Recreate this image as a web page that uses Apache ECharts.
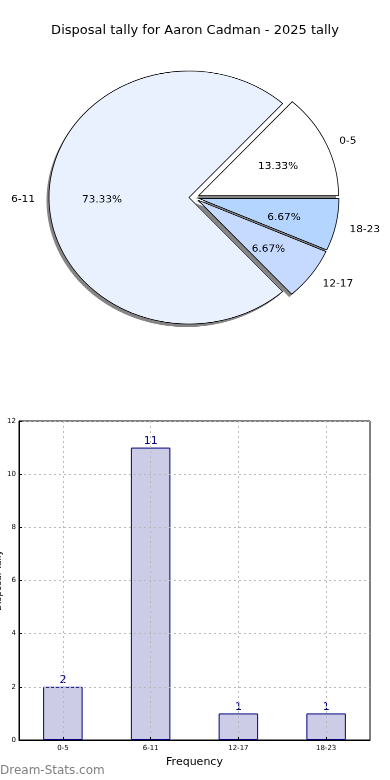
<!DOCTYPE html>
<html>
<head>
<meta charset="utf-8">
<script src="https://cdn.jsdelivr.net/npm/echarts@6/dist/echarts.min.js"></script>
<style>
  html, body { margin:0; padding:0; background:#fff; }
  #main { position:absolute; left:0; top:0; width:390px; height:780px; }
  #pie { position:absolute; left:0; top:0; width:390px; height:400px; transform: scaleY(0.9036); transform-origin: 0 197.5px; }
</style>
</head>
<body>
<div id="main"></div>
<div id="pie"></div>
<script>
const titleText = 'Disposal tally for Aaron Cadman - 2025 tally';
const categories = ['0-5', '6-11', '12-17', '18-23'];
const counts = [2, 11, 1, 1];
const pieColors = ['#ffffff', '#eaf1fe', '#c6d9ff', '#b3d5ff'];
const yTickValues = { min: 0, max: 12, step: 2 };
const xAxisName = 'Frequency';
const yAxisName = 'Disposal Tally';
const watermark = 'Dream-Stats.com';

const FONT = 'DejaVu Sans';

const main = echarts.init(document.getElementById('main'), null, { renderer: 'canvas' });
main.setOption({
  animation: false,
  title: {
    text: titleText, left: 'center', top: 19,
    textStyle: { fontFamily: FONT, fontSize: 13, fontWeight: 'normal', color: '#000' }
  },
  grid: { left: 19, right: 20, top: 421, bottom: 40, containLabel: false, outerBoundsMode: 'none',
          show: true, borderColor: '#000', borderWidth: 1, backgroundColor: 'transparent' },
  xAxis: {
    type: 'category', data: categories, z: 3,
    axisLine: { show: true, lineStyle: { color: '#000', width: 1 } },
    axisTick: { show: true, inside: true, alignWithLabel: true, length: 3, lineStyle: { color: '#000' } },
    axisLabel: { fontFamily: FONT, fontSize: 7, color: '#000', margin: 5 },
    splitLine: { show: true, alignWithLabel: true, lineStyle: { color: '#b8b8b8', type: [2, 3], width: 1 } },
    name: xAxisName, nameLocation: 'middle', nameGap: 17, nameMoveOverlap: false,
    nameTextStyle: { fontFamily: FONT, fontSize: 11, color: '#000' }
  },
  yAxis: {
    type: 'value', min: yTickValues.min, max: yTickValues.max, interval: yTickValues.step, z: 3,
    axisLine: { show: true, lineStyle: { color: '#000', width: 1 } },
    axisTick: { show: true, inside: true, length: 3, lineStyle: { color: '#000' } },
    axisLabel: { fontFamily: FONT, fontSize: 7, color: '#000', margin: 3 },
    splitLine: { show: true, lineStyle: { color: '#b8b8b8', type: [2, 3], width: 1 } },
    name: yAxisName, nameLocation: 'middle', nameGap: 16, nameRotate: 90, nameMoveOverlap: false,
    nameTextStyle: { fontFamily: FONT, fontSize: 9, color: '#000' }
  },
  series: [{
    type: 'bar', data: counts, barWidth: '45%', z: 2,
    itemStyle: { color: '#ccccE6', borderColor: '#000080', borderWidth: 1 },
    label: { show: true, position: 'top', distance: 1, color: '#000080', fontFamily: FONT, fontSize: 11 },
    emphasis: { disabled: true }
  }],
  graphic: [{
    type: 'text', left: 0, top: 765,
    style: { text: watermark, fill: '#808080', font: '12px "DejaVu Sans"' }
  }]
});

const pie = echarts.init(document.getElementById('pie'), null, { renderer: 'canvas', devicePixelRatio: 2 });
const R = 140;
const CX = 194, CY = 197.5;
const SHADOW_DX = -2.5, SHADOW_DY = 3.3;
const pieData = categories.map((c, i) => ({
  name: c, value: counts[i], selected: true,
  itemStyle: { color: pieColors[i] }
}));
const shadowData = categories.map((c, i) => ({ name: c, value: counts[i], selected: true }));
const pctData = categories.map((c, i) => ({ name: c, value: counts[i], selected: true }));
const common = {
  type: 'pie', startAngle: 0, clockwise: false,
  selectedMode: 'multiple', selectedOffset: 5,
  avoidLabelOverlap: false, silent: true,
  emphasis: { disabled: true }
};
pie.setOption({
  animation: false,
  series: [Object.assign({}, common, {
    center: [CX + SHADOW_DX, CY + SHADOW_DY], radius: [0, R], z: 1,
    data: shadowData,
    itemStyle: { color: 'rgba(0,0,0,0.48)', borderWidth: 0 },
    label: { show: false }, labelLine: { show: false }
  }), Object.assign({}, common, {
    center: [CX, CY], radius: [0, R], z: 2,
    data: pieData,
    itemStyle: { borderColor: '#000', borderWidth: 0.8 },
    label: { show: true, position: 'outside', formatter: '{b}', fontFamily: FONT, fontSize: 10.5, color: '#000', distanceToLabelLine: 0 },
    labelLine: { show: false, length: 14, length2: 0 },
    labelLayout: { dy: 2.5 }
  }), Object.assign({}, common, {
    center: [CX, CY], radius: [R * 0.2, R], z: 3,
    data: pctData,
    itemStyle: { color: 'rgba(0,0,0,0)', borderWidth: 0 },
    label: { show: true, position: 'inside', formatter: '{d}%', fontFamily: FONT, fontSize: 10.5, color: '#000' },
    labelLine: { show: false },
    labelLayout: { dy: 3 }
  })]
});
</script>
</body>
</html>
